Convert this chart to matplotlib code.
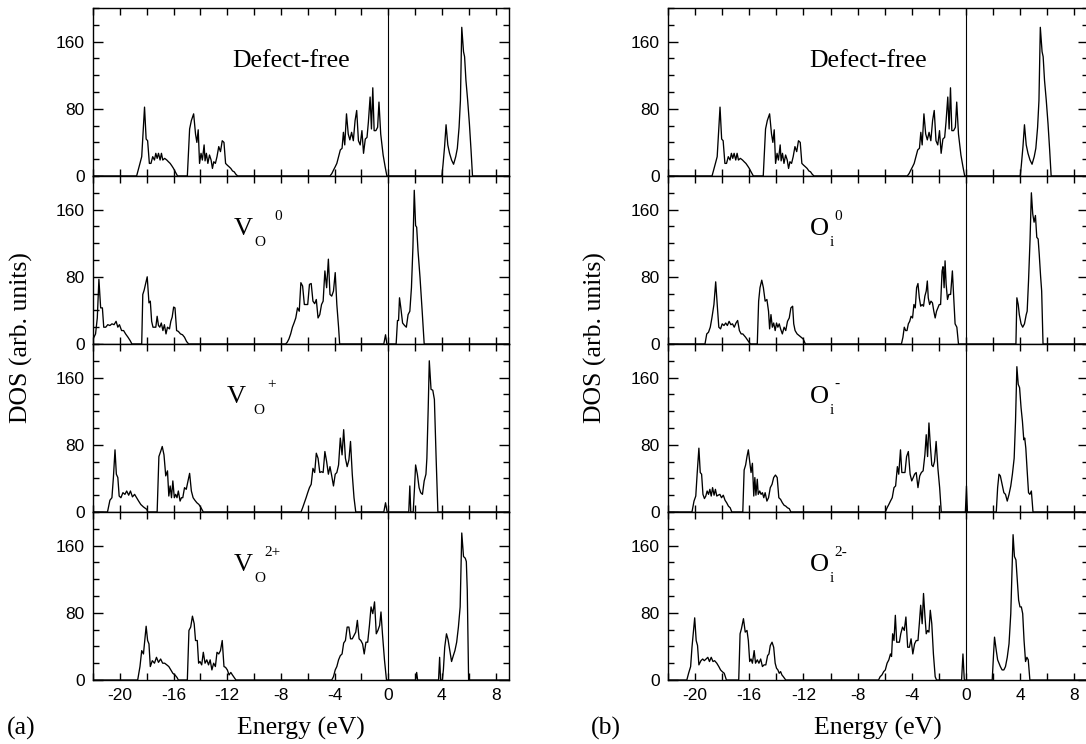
import numpy as np
import matplotlib
matplotlib.use("Agg")
import matplotlib.pyplot as plt
from matplotlib.ticker import MultipleLocator

plt.rcParams["axes.unicode_minus"] = False

# ---------------- data (energy eV, DOS arb. units) ----------------
free = [(-22,0),(-18.75,0),(-18.5,15),(-18.37,23),(-18.16,82),(-18.04,44),(-17.93,42),(-17.8,15),(-17.68,15),
        (-17.55,23),(-17.42,19),(-17.32,27),(-17.22,21),(-17.12,27),(-17.0,19),(-16.9,27),(-16.8,19),(-16.66,21),
        (-16.5,19),(-16.38,17),(-16.25,15),(-16.12,12),(-16.0,9),(-15.87,5),(-15.7,0),
        (-14.97,0),(-14.8,56),(-14.67,66),(-14.5,74),(-14.36,50),(-14.26,40),(-14.16,55),(-14.06,15),(-13.95,27),
        (-13.85,19),(-13.72,37),(-13.65,18),(-13.55,27),(-13.44,15),(-13.32,25),(-13.2,19),(-13.1,9),(-13.0,17),
        (-12.88,15),(-12.76,23),(-12.63,35),(-12.5,29),(-12.37,42),(-12.24,40),(-12.12,15),(-12.0,13),(-11.86,11),
        (-11.73,9),(-11.6,6),(-11.48,5),(-11.35,2),(-11.22,0),
        (-4.34,0),(-4.2,3),(-4.08,7),(-3.95,11),(-3.83,15),(-3.7,23),(-3.57,31),(-3.44,33),(-3.34,52),(-3.24,37),
        (-3.11,74),(-2.98,50),(-2.86,43),(-2.73,52),(-2.6,42),(-2.47,66),(-2.35,78),(-2.22,42),(-2.09,37),(-1.96,54),
        (-1.84,27),(-1.71,44),(-1.58,46),(-1.48,64),(-1.35,94),(-1.25,56),(-1.15,105),(-1.05,54),(-0.92,54),
        (-0.79,58),(-0.69,88),(-0.56,50),(-0.38,25),(-0.23,11),(-0.1,0),
        (4.0,0),(4.08,13),(4.2,35),(4.31,61),(4.44,37),(4.57,27),(4.72,19),(4.87,14),(5.03,23),(5.15,33),(5.28,58),
        (5.38,90),(5.48,177),(5.61,148),(5.69,142),(5.79,114),(5.92,90),(6.05,62),(6.17,31),(6.28,0),(9,0)]

vo0 = [(-22,4),(-21.99,6),(-21.81,12),(-21.68,31),(-21.56,77),(-21.43,43),(-21.3,43),(-21.2,20),(-21.05,20),
       (-20.9,23),(-20.74,22),(-20.59,24),(-20.43,23),(-20.28,27),(-20.15,20),(-20.03,23),(-19.87,16),(-19.72,16),
       (-19.57,12),(-19.39,8),(-19.23,4),(-19.1,0),
       (-18.37,0),(-18.29,59),(-18.19,64),(-18.09,71),(-17.96,80),(-17.83,49),(-17.73,51),(-17.63,27),(-17.53,20),
       (-17.42,20),(-17.32,20),(-17.22,33),(-17.12,22),(-17.02,20),(-16.91,25),(-16.79,16),(-16.68,23),(-16.56,12),
       (-16.45,20),(-16.3,18),(-16.2,27),(-16.1,32),(-15.99,44),(-15.89,43),(-15.77,16),(-15.64,15),(-15.48,12),
       (-15.33,11),(-15.18,8),(-15.03,3),(-14.87,0),
       (-7.65,0),(-7.53,2),(-7.4,6),(-7.27,12),(-7.14,20),(-7.02,25),(-6.89,31),(-6.76,43),(-6.63,39),(-6.51,73),
       (-6.38,69),(-6.25,47),(-6.12,47),(-6.0,47),(-5.87,71),(-5.74,72),(-5.61,51),(-5.48,48),(-5.36,53),(-5.23,31),
       (-5.1,35),(-4.97,47),(-4.85,51),(-4.72,87),(-4.59,67),(-4.46,101),(-4.34,59),(-4.21,57),(-4.08,63),(-3.95,85),
       (-3.83,47),(-3.7,20),(-3.62,0),
       (-0.33,0),(-0.2,11),(-0.1,0),
       (0.59,0),(0.69,28),(0.77,28),(0.84,55),(0.94,43),(1.07,25),(1.22,22),(1.35,20),(1.48,35),(1.61,39),(1.73,67),
       (1.84,115),(1.94,183),(2.04,141),(2.12,139),(2.22,111),(2.37,79),(2.53,39),(2.68,0),(9,0)]

vop = [(-22,0),(-20.92,0),(-20.74,14),(-20.59,17),(-20.48,41),(-20.36,74),(-20.26,45),(-20.15,41),(-20.05,19),
       (-19.92,17),(-19.77,23),(-19.62,21),(-19.49,25),(-19.34,20),(-19.21,25),(-19.06,18),(-18.9,21),(-18.75,17),
       (-18.6,13),(-18.44,9),(-18.24,6),(-17.98,3),(-17.93,0),
       (-17.22,0),(-17.09,66),(-16.96,72),(-16.84,78),(-16.71,68),(-16.58,43),(-16.45,49),(-16.35,19),(-16.25,31),
       (-16.15,17),(-16.05,37),(-15.94,17),(-15.84,21),(-15.74,17),(-15.64,25),(-15.51,13),(-15.41,17),(-15.31,17),
       (-15.18,29),(-15.05,27),(-14.92,37),(-14.8,46),(-14.67,25),(-14.54,17),(-14.41,14),(-14.26,11),(-14.11,9),
       (-13.95,5),(-13.78,0),
       (-6.5,0),(-6.38,5),(-6.25,11),(-6.12,17),(-6.0,23),(-5.87,29),(-5.74,33),(-5.61,52),(-5.48,47),(-5.36,70),
       (-5.23,64),(-5.1,47),(-4.97,48),(-4.85,47),(-4.72,72),(-4.59,60),(-4.46,45),(-4.34,54),(-4.21,43),(-4.08,31),
       (-3.95,45),(-3.83,47),(-3.7,56),(-3.57,88),(-3.44,68),(-3.32,98),(-3.19,64),(-3.06,54),(-2.93,62),(-2.81,84),
       (-2.68,45),(-2.55,17),(-2.42,0),
       (-0.33,0),(-0.2,11),(-0.08,0),
       (1.53,0),(1.61,31),(1.68,0),
       (1.86,0),(1.96,29),(2.04,56),(2.17,45),(2.3,29),(2.42,23),(2.55,21),(2.68,37),(2.81,45),(2.88,64),(2.98,124),
       (3.06,180),(3.19,146),(3.32,145),(3.44,134),(3.57,64),(3.7,0),(9,0)]

vo2p = [(-22,0),(-18.67,0),(-18.5,16),(-18.37,35),(-18.24,31),(-18.04,64),(-17.93,47),(-17.83,43),(-17.73,16),
        (-17.58,23),(-17.42,20),(-17.27,27),(-17.12,21),(-16.96,25),(-16.81,20),(-16.66,20),(-16.5,18),(-16.35,16),
        (-16.2,12),(-16.05,8),(-15.89,6),(-15.74,3),(-15.64,0),
        (-14.97,0),(-14.85,59),(-14.72,63),(-14.59,76),(-14.46,67),(-14.36,47),(-14.23,47),(-14.13,20),(-14.03,22),
        (-13.9,18),(-13.78,33),(-13.65,20),(-13.52,24),(-13.39,18),(-13.27,24),(-13.14,12),(-13.01,20),(-12.88,16),
        (-12.76,33),(-12.63,31),(-12.5,35),(-12.37,47),(-12.24,16),(-12.12,15),(-11.99,12),(-11.86,6),(-11.73,9),
        (-11.61,6),(-11.48,3),(-11.35,0),
        (-4.21,0),(-4.08,4),(-3.95,12),(-3.83,16),(-3.7,24),(-3.57,29),(-3.44,31),(-3.32,44),(-3.19,47),(-3.06,63),
        (-2.93,63),(-2.81,49),(-2.68,49),(-2.55,53),(-2.42,57),(-2.3,71),(-2.17,49),(-2.04,47),(-1.91,43),(-1.79,31),
        (-1.66,45),(-1.53,45),(-1.4,65),(-1.28,87),(-1.15,79),(-1.02,93),(-0.89,55),(-0.77,59),(-0.64,65),(-0.54,81),
        (-0.43,55),(-0.28,24),(-0.13,0),
        (2.04,0),(2.12,9),(2.19,0),
        (3.75,0),(3.83,27),(3.9,0),
        (4.03,0),(4.11,12),(4.21,39),(4.34,55),(4.46,48),(4.59,35),(4.72,22),(4.85,29),(4.97,35),(5.1,45),(5.23,63),
        (5.36,87),(5.48,175),(5.61,147),(5.74,145),(5.82,141),(5.89,107),(5.99,0),(9,0)]

oi0 = [(-22,0),(-19.27,0),(-19.14,12),(-19.01,14),(-18.88,20),(-18.76,31),(-18.61,47),(-18.48,74),(-18.35,43),
       (-18.25,20),(-18.12,18),(-18.0,24),(-17.87,22),(-17.74,25),(-17.62,22),(-17.49,27),(-17.36,23),(-17.24,24),
       (-17.11,20),(-16.98,25),(-16.86,28),(-16.73,16),(-16.6,12),(-16.48,12),(-16.27,8),(-16.1,4),(-15.92,0),
       (-15.41,0),(-15.31,51),(-15.21,67),(-15.08,76),(-14.96,67),(-14.83,51),(-14.7,53),(-14.58,39),(-14.5,18),
       (-14.4,35),(-14.3,20),(-14.2,25),(-14.09,16),(-13.99,25),(-13.89,20),(-13.79,24),(-13.69,18),(-13.56,12),
       (-13.43,20),(-13.31,16),(-13.18,27),(-13.05,31),(-12.93,43),(-12.8,45),(-12.72,24),(-12.62,16),(-12.47,12),
       (-12.32,10),(-12.17,8),(-12.02,6),(-11.86,0),
       (-4.77,0),(-4.66,8),(-4.56,20),(-4.46,16),(-4.36,16),(-4.26,24),(-4.16,27),(-4.06,33),(-3.95,31),(-3.85,47),
       (-3.75,43),(-3.65,67),(-3.55,72),(-3.45,55),(-3.35,45),(-3.24,47),(-3.14,45),(-3.04,57),(-2.94,63),(-2.86,75),
       (-2.79,55),(-2.69,47),(-2.59,51),(-2.48,49),(-2.38,39),(-2.28,31),(-2.18,39),(-2.08,43),(-1.98,47),(-1.88,47),
       (-1.77,87),(-1.7,92),(-1.62,67),(-1.55,99),(-1.47,71),(-1.37,53),(-1.27,59),(-1.14,59),(-1.01,87),(-0.91,55),
       (-0.81,24),(-0.68,20),(-0.56,0),
       (3.68,0),(3.75,55),(3.85,47),(3.93,35),(4.06,24),(4.18,20),(4.31,24),(4.44,35),(4.51,39),(4.61,75),(4.72,123),
       (4.82,180),(4.92,155),(5.02,145),(5.12,153),(5.22,127),(5.32,125),(5.4,107),(5.5,81),(5.58,63),(5.68,0),(9,0)]

oim = [(-22,0),(-20.23,0),(-20.08,13),(-19.95,19),(-19.85,45),(-19.72,76),(-19.62,47),(-19.52,45),(-19.42,21),
       (-19.31,16),(-19.21,19),(-19.11,25),(-19.01,21),(-18.91,27),(-18.81,19),(-18.71,29),(-18.6,20),(-18.5,27),
       (-18.4,19),(-18.3,20),(-18.17,21),(-18.05,17),(-17.92,20),(-17.79,14),(-17.67,11),(-17.54,7),(-17.41,5),
       (-17.29,0),
       (-16.48,0),(-16.38,50),(-16.27,56),(-16.17,66),(-16.07,74),(-15.97,60),(-15.87,47),(-15.77,58),(-15.67,19),
       (-15.59,41),(-15.51,20),(-15.41,39),(-15.34,21),(-15.23,25),(-15.13,21),(-15.03,23),(-14.93,17),(-14.83,23),
       (-14.7,13),(-14.58,17),(-14.45,29),(-14.32,33),(-14.2,41),(-14.07,44),(-13.94,41),(-13.82,17),(-13.69,15),
       (-13.56,11),(-13.43,8),(-13.31,7),(-13.18,5),(-13.05,4),(-12.93,0),
       (-5.96,0),(-5.83,5),(-5.7,9),(-5.58,13),(-5.45,17),(-5.32,29),(-5.2,31),(-5.07,54),(-4.97,45),(-4.84,74),
       (-4.74,47),(-4.64,47),(-4.51,47),(-4.39,66),(-4.26,72),(-4.13,45),(-4.01,37),(-3.9,41),(-3.8,45),(-3.68,47),
       (-3.55,29),(-3.42,43),(-3.3,47),(-3.17,49),(-3.04,68),(-2.94,92),(-2.84,66),(-2.74,106),(-2.64,80),(-2.53,56),
       (-2.43,54),(-2.33,60),(-2.21,84),(-2.08,52),(-1.95,29),(-1.83,0),
       (-0.05,0),(0.03,31),(0.1,0),
       (2.23,0),(2.33,29),(2.43,45),(2.53,43),(2.66,33),(2.79,23),(2.91,21),(3.04,13),(3.17,21),(3.3,31),(3.42,45),
       (3.55,64),(3.65,108),(3.75,173),(3.85,152),(3.95,148),(4.06,124),(4.16,108),(4.26,86),(4.33,88),(4.41,76),
       (4.51,49),(4.61,23),(4.71,21),(4.82,25),(4.94,0),(9,0)]

oi2m = [(-22,0),(-20.61,0),(-20.48,8),(-20.33,16),(-20.23,39),(-20.03,74),(-19.92,47),(-19.82,41),(-19.72,18),
        (-19.57,23),(-19.44,25),(-19.32,23),(-19.19,25),(-19.06,27),(-18.94,22),(-18.81,27),(-18.68,22),(-18.56,23),
        (-18.4,20),(-18.25,16),(-18.12,12),(-18.0,10),(-17.85,8),(-17.69,0),
        (-16.78,0),(-16.68,55),(-16.58,61),(-16.43,73),(-16.3,57),(-16.17,59),(-16.07,47),(-15.97,22),(-15.87,25),
        (-15.77,20),(-15.64,35),(-15.54,20),(-15.41,24),(-15.29,20),(-15.16,25),(-15.03,16),(-14.91,18),(-14.78,18),
        (-14.65,29),(-14.55,31),(-14.45,41),(-14.32,45),(-14.2,39),(-14.09,20),(-13.99,14),(-13.89,12),(-13.79,8),
        (-13.69,10),(-13.59,6),(-13.49,4),(-13.31,0),
        (-6.46,0),(-6.34,4),(-6.21,6),(-6.08,10),(-5.96,12),(-5.83,20),(-5.7,24),(-5.58,31),(-5.5,28),(-5.42,55),
        (-5.32,47),(-5.22,77),(-5.12,45),(-4.99,45),(-4.92,45),(-4.82,55),(-4.69,63),(-4.56,59),(-4.44,75),(-4.31,39),
        (-4.18,39),(-4.06,49),(-3.93,31),(-3.8,43),(-3.68,47),(-3.55,47),(-3.45,67),(-3.35,89),(-3.24,67),(-3.14,103),
        (-3.04,77),(-2.94,55),(-2.84,59),(-2.74,57),(-2.64,83),(-2.53,67),(-2.41,31),(-2.28,4),(-2.18,0),
        (-0.33,0),(-0.23,31),(-0.13,0),
        (1.93,0),(2.03,31),(2.1,51),(2.23,35),(2.33,24),(2.43,20),(2.53,16),(2.66,12),(2.79,12),(2.91,16),(3.04,27),
        (3.17,43),(3.3,79),(3.4,135),(3.47,173),(3.57,147),(3.68,143),(3.78,119),(3.88,95),(3.98,87),(4.08,87),
        (4.18,79),(4.28,47),(4.39,22),(4.49,27),(4.59,24),(4.71,0),(9,0)]

left_series = [free, vo0, vop, vo2p]
right_series = [free, oi0, oim, oi2m]

# labels: (main, subscript, superscript)
left_labels = [("Defect-free", "", ""), ("V", "O", "0"), ("V", "O", "+"), ("V", "O", "2+")]
right_labels = [("Defect-free", "", ""), ("O", "i", "0"), ("O", "i", "-"), ("O", "i", "2-")]

x_ticks = [-20, -16, -12, -8, -4, 0, 4, 8]
y_ticks = [0, 80, 160]

# ---------------- layout ----------------
W, H = 1086, 744
SERIF = "Liberation Serif"
SANS = "Liberation Sans"

fig = plt.figure(figsize=(W / 100, H / 100), dpi=100)

top_px, panel_px = 8, 168
cols = [(93, 416), (668, 420)]


def make_label(ax, lab, x_main, sub_dx, sup_dx):
    main, sub, sup = lab
    ax.text(x_main, 130, main, family=SERIF, fontsize=19, ha="left", va="baseline")
    if sub:
        ax.annotate(sub, xy=(x_main, 130), xytext=(sub_dx, -11), textcoords="offset pixels",
                    family=SERIF, fontsize=11, ha="left", va="baseline")
    if sup:
        ax.annotate(sup, xy=(x_main, 130), xytext=(sup_dx, 15), textcoords="offset pixels",
                    family=SERIF, fontsize=11, ha="left", va="baseline")


for c, (x0, w) in enumerate(cols):
    series = left_series if c == 0 else right_series
    labels = left_labels if c == 0 else right_labels
    for i in range(4):
        y0 = H - top_px - panel_px * (i + 1)
        ax = fig.add_axes([x0 / W, y0 / H, w / W, panel_px / H])
        data = np.array(series[i], dtype=float)
        ax.plot(data[:, 0], data[:, 1], color="black", lw=0.95)
        ax.axvline(0, color="black", lw=0.8)
        ax.set_xlim(-22, 9)
        ax.set_ylim(0, 200)
        ax.set_xticks(x_ticks)
        ax.xaxis.set_minor_locator(MultipleLocator(2))
        ax.set_yticks(y_ticks)
        ax.yaxis.set_minor_locator(MultipleLocator(20))
        ax.tick_params(which="both", direction="in", top=True, right=True, labelsize=12.5, pad=6)
        ax.tick_params(axis="x", which="both", length=5, width=1)
        ax.tick_params(axis="y", which="major", length=7, width=1)
        ax.tick_params(axis="y", which="minor", length=4, width=1)
        for lbl in ax.get_xticklabels() + ax.get_yticklabels():
            lbl.set_family(SANS)
        for s in ax.spines.values():
            s.set_linewidth(1.0)
        if i < 3:
            ax.tick_params(axis="x", labelbottom=False)
        lab = labels[i]
        if lab[1] == "":
            ax.text(-11.6, 130, lab[0], family=SERIF, fontsize=18.5, ha="left", va="baseline")
        else:
            if c == 0:
                xm = -12.0 if lab[2] == "+" else -11.5
                sub_dx = 26 if lab[2] == "+" else 20
                sup_dx = {"0": 40, "+": 40, "2+": 30}[lab[2]]
            else:
                xm = -11.5
                sub_dx = 19
                sup_dx = 24
            make_label(ax, lab, xm, sub_dx, sup_dx)

# axis labels
for c, (x0, w) in enumerate(cols):
    cx = (x0 + w / 2) / W
    fig.text(cx, 0.012, "Energy (eV)", family=SERIF, fontsize=18.5, ha="center", va="baseline")
    ylx = 21 / W if c == 0 else 595 / W
    fig.text(ylx, 1 - 338 / H, "DOS (arb. units)", family=SERIF, fontsize=18.5,
             rotation=90, ha="center", va="center")

fig.text(7 / W, 0.012, "(a)", family=SERIF, fontsize=18.5, ha="left", va="baseline")
fig.text(591 / W, 0.012, "(b)", family=SERIF, fontsize=18.5, ha="left", va="baseline")

fig.savefig("out.png", dpi=100)
